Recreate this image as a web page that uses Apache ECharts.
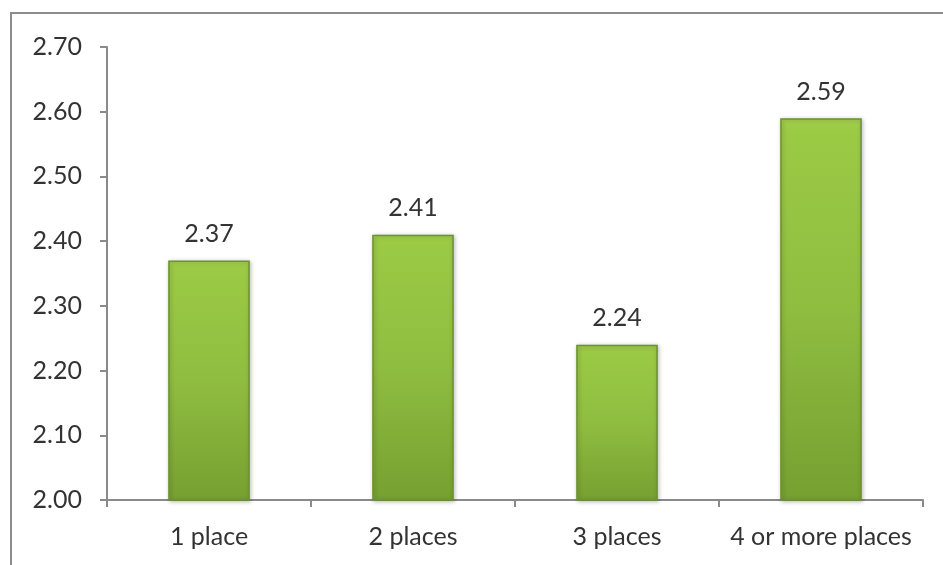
<!DOCTYPE html>
<html>
<head>
<meta charset="utf-8">
<script src="https://cdn.jsdelivr.net/npm/echarts@6/dist/echarts.min.js"></script>
<style>
  html, body { margin: 0; padding: 0; background: #ffffff; }
  #chart { width: 943px; height: 565px; }
</style>
</head>
<body>
<div id="chart"></div>
<script>
// Average score by number of places
const categories = ['1 place', '2 places', '3 places', '4 or more places'];
const values = [2.37, 2.41, 2.24, 2.59];
const yMin = 2.0;
const yMax = 2.7;
const yStep = 0.1;

const chart = echarts.init(document.getElementById('chart'), null, { renderer: 'canvas' });

const textColor = '#333333';
const axisColor = '#8a8a8a';
const fontFamily = 'Lato, "Liberation Sans", sans-serif';
const fontSize = 25;

const barFill = new echarts.graphic.LinearGradient(0, 0, 0, 1, [
  { offset: 0, color: '#a5d14e' },
  { offset: 0.03, color: '#9bca45' },
  { offset: 0.5, color: '#8fbd40' },
  { offset: 1, color: '#76a031' }
]);

chart.setOption({
  backgroundColor: '#ffffff',
  animation: false,
  graphic: [{
    type: 'rect',
    shape: { x: 11, y: 13, width: 1000, height: 700 },
    style: { fill: 'none', stroke: '#8c8c8c', lineWidth: 2 },
    silent: true,
    z: -1
  }],
  grid: { left: 107, right: 20, top: 47, bottom: 65 },
  xAxis: {
    type: 'category',
    data: categories,
    axisLine: { show: true, lineStyle: { color: axisColor, width: 2 } },
    axisTick: { show: true, alignWithLabel: false, length: 7, lineStyle: { color: axisColor, width: 2 } },
    axisLabel: { color: textColor, fontSize: fontSize, fontFamily: fontFamily, margin: 24, interval: 0 }
  },
  yAxis: {
    type: 'value',
    min: yMin,
    max: yMax,
    interval: yStep,
    splitLine: { show: false },
    axisLine: { show: true, lineStyle: { color: axisColor, width: 2 } },
    axisTick: { show: true, length: 7, lineStyle: { color: axisColor, width: 2 } },
    axisLabel: {
      color: textColor, fontSize: fontSize, fontFamily: fontFamily, margin: 25,
      formatter: v => v.toFixed(2)
    }
  },
  series: [{
    type: 'bar',
    data: values,
    barWidth: '40%',
    itemStyle: {
      color: barFill,
      borderColor: '#6c922e',
      borderWidth: 1.5,
      shadowColor: 'rgba(0,0,0,0.25)',
      shadowBlur: 4,
      shadowOffsetX: 1,
      shadowOffsetY: 1
    },
    label: {
      show: true,
      position: 'top',
      distance: 14,
      color: textColor,
      fontSize: fontSize,
      fontFamily: fontFamily,
      formatter: p => p.value.toFixed(2)
    }
  }]
});
</script>
</body>
</html>
